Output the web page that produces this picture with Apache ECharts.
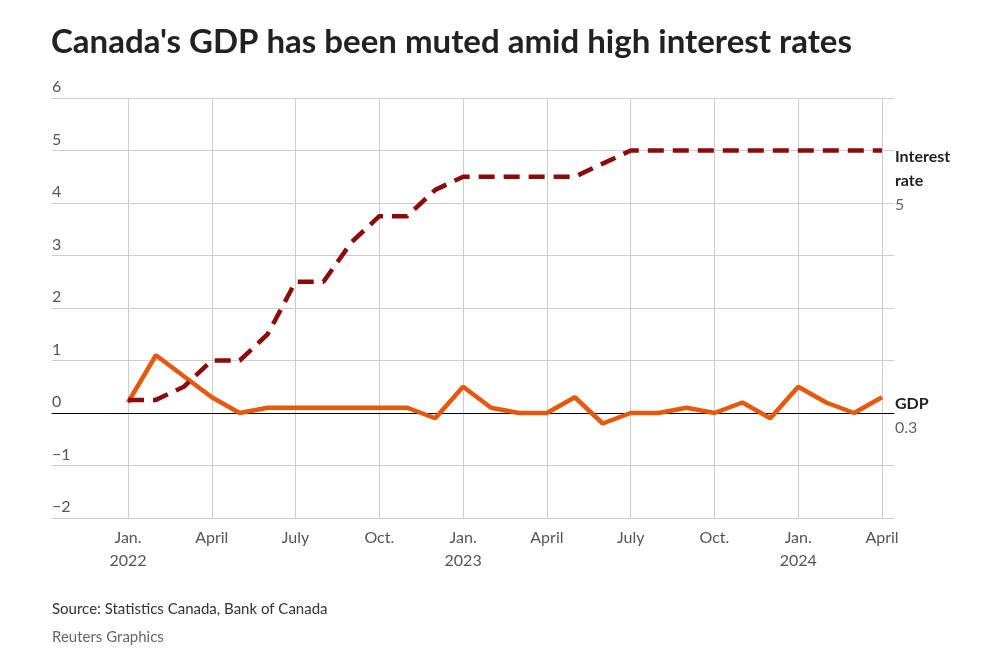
<!DOCTYPE html>
<html>
<head>
<meta charset="utf-8">
<script src="https://cdn.jsdelivr.net/npm/echarts@6/dist/echarts.min.js"></script>
<style>
html,body{margin:0;padding:0;background:#fff;}
#c{width:1001px;height:658px;}
</style>
</head>
<body>
<div id="c"></div>
<script>
// Month index 0 = Jan 2022 ... 27 = April 2024
const months = ['Jan. 2022','Feb. 2022','Mar. 2022','Apr. 2022','May 2022','Jun. 2022','Jul. 2022','Aug. 2022','Sep. 2022','Oct. 2022','Nov. 2022','Dec. 2022',
  'Jan. 2023','Feb. 2023','Mar. 2023','Apr. 2023','May 2023','Jun. 2023','Jul. 2023','Aug. 2023','Sep. 2023','Oct. 2023','Nov. 2023','Dec. 2023',
  'Jan. 2024','Feb. 2024','Mar. 2024','Apr. 2024'];
const gdp = [0.2,1.1,0.7,0.3,0.0,0.1,0.1,0.1,0.1,0.1,0.1,-0.1,
  0.5,0.1,0.0,0.0,0.3,-0.2,0.0,0.0,0.1,0.0,0.2,-0.1,
  0.5,0.2,0.0,0.3];
const interestRate = [0.25,0.25,0.5,1.0,1.0,1.5,2.5,2.5,3.25,3.75,3.75,4.25,
  4.5,4.5,4.5,4.5,4.5,4.75,5,5,5,5,5,5,
  5,5,5,5];
const xTickLabels = {0:'Jan.\n2022',3:'April',6:'July',9:'Oct.',12:'Jan.\n2023',15:'April',18:'July',21:'Oct.',24:'Jan.\n2024',27:'April'};
const yTicks = [-2,-1,0,1,2,3,4,5,6];

const FONT = 'Lato';
const chart = echarts.init(document.getElementById('c'), null, {renderer:'canvas'});
const gdpPts = gdp.map((v,i)=>[i,v]);
const ratePts = interestRate.map((v,i)=>[i,v]);
const lastGdp = gdp[gdp.length-1];
const lastRate = interestRate[interestRate.length-1];

chart.setOption({
  animation:false,
  backgroundColor:'#fff',
  textStyle:{fontFamily:FONT},
  title:[
    {text:"Canada's GDP has been muted amid high interest rates", left:46, top:21,
     textStyle:{fontFamily:FONT,fontWeight:'bold',fontSize:33,color:'#222'}},
    {text:'Source: Statistics Canada, Bank of Canada', left:47, top:597,
     textStyle:{fontFamily:FONT,fontWeight:'normal',fontSize:15,color:'#333'}},
    {text:'Reuters Graphics', left:47, top:625,
     textStyle:{fontFamily:FONT,fontWeight:'normal',fontSize:15,color:'#666'}}
  ],
  grid:[
    {left:52, right:107, top:98, bottom:140},
    {left:128, right:119, top:98, bottom:140}
  ],
  xAxis:[
    {gridIndex:0, type:'value', min:0, max:1, show:true,
     axisLine:{show:true,onZero:true,lineStyle:{color:'#000',width:1}},
     axisTick:{show:false}, axisLabel:{show:false}, splitLine:{show:false}, z:3},
    {gridIndex:1, type:'value', min:0, max:27, interval:3,
     axisLine:{show:false}, axisTick:{show:false},
     splitLine:{show:true,lineStyle:{color:'#cccccc',width:1}},
     axisLabel:{show:true, margin:8, color:'#555', fontSize:16, lineHeight:23, fontFamily:FONT,
       formatter:v=>xTickLabels[v]||''}}
  ],
  yAxis:[
    {gridIndex:0, type:'value', min:-2, max:6, interval:1,
     axisLine:{show:false}, axisTick:{show:false},
     splitLine:{show:true,lineStyle:{color:'#cccccc',width:1}},
     axisLabel:{show:true, inside:false, margin:0, align:'left', verticalAlign:'bottom',
       padding:[0,0,3,0], color:'#555', fontSize:16, fontFamily:FONT,
       formatter:v=>v<0?'\u2212'+(-v):String(v)}},
    {gridIndex:1, type:'value', min:-2, max:6, interval:1, show:false, splitLine:{show:false}}
  ],
  series:[
    {name:'GDP', type:'line', xAxisIndex:1, yAxisIndex:1, data:gdpPts, showSymbol:false, symbol:'none',
     lineStyle:{color:'#e6580c',width:4.5}, z:4,
     endLabel:{show:true, distance:13, offset:[0,19],
       formatter:()=>'{b|GDP}\n{v|'+lastGdp+'}',
       rich:{b:{fontFamily:FONT,fontWeight:'bold',fontSize:16,color:'#222',lineHeight:24},
             v:{fontFamily:FONT,fontSize:16,color:'#666',lineHeight:24}}}},
    {name:'Interest rate', type:'line', xAxisIndex:1, yAxisIndex:1, data:ratePts, showSymbol:false, symbol:'none',
     lineStyle:{color:'#8b0a0a',width:4.5,type:[16,9]}, z:5,
     endLabel:{show:true, distance:13, offset:[0,30],
       formatter:()=>'{b|Interest}\n{b|rate}\n{v|'+lastRate+'}',
       rich:{b:{fontFamily:FONT,fontWeight:'bold',fontSize:16,color:'#222',lineHeight:24},
             v:{fontFamily:FONT,fontSize:16,color:'#666',lineHeight:24}}}}
  ]
});
</script>
</body>
</html>
